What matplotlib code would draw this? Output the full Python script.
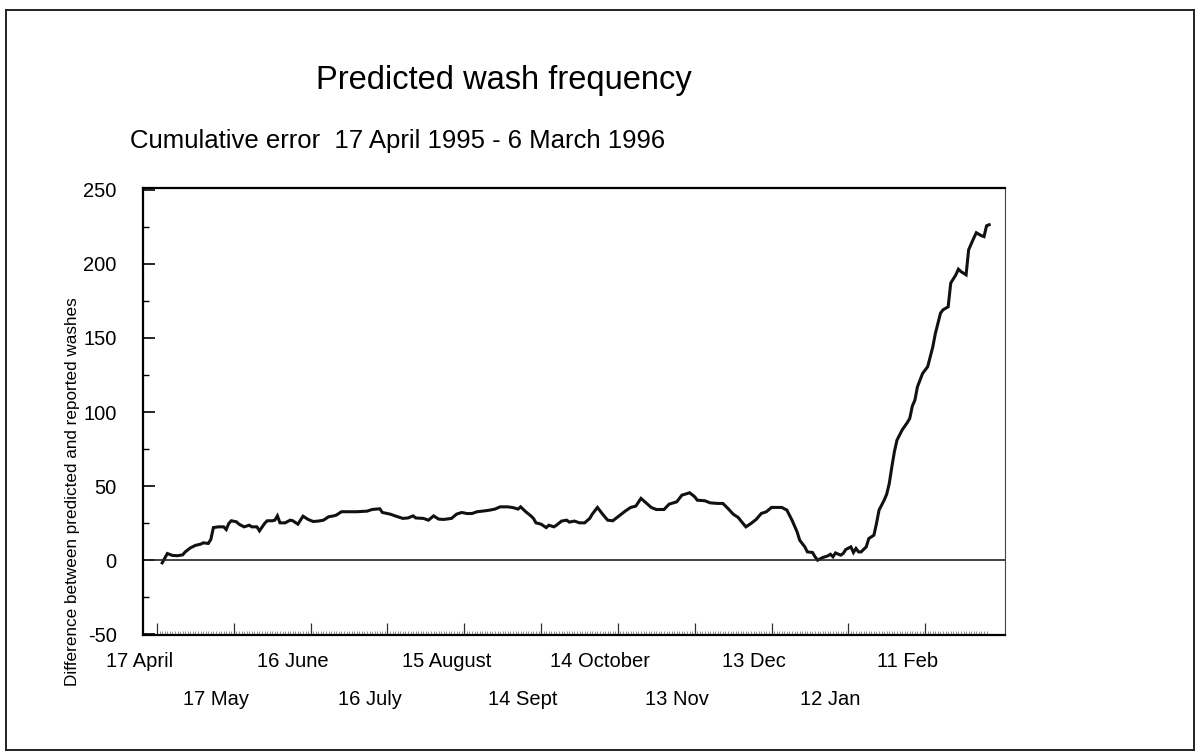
import matplotlib
matplotlib.use("Agg")
import matplotlib.pyplot as plt
import matplotlib.transforms as mtransforms
from matplotlib.patches import Rectangle
import numpy as np

plt.rcParams['font.family'] = ['Liberation Sans', 'DejaVu Sans']
plt.rcParams['axes.unicode_minus'] = False

# days counted from 17 April 1995
days = [2, 4, 6, 8, 10, 11, 13, 15, 17, 18, 20, 21, 22, 24, 26, 27, 28, 29, 31, 32,
        34, 36, 37, 39, 40, 42, 43, 45, 46, 47, 48, 50, 52, 53, 55, 56, 57, 59, 61, 63,
        65, 67, 69, 70, 72, 74, 78, 82, 84, 87, 88, 91, 94, 96, 98, 100, 101, 104, 106, 108,
        110, 112, 115, 117, 119, 121, 123, 125, 128, 130, 132, 134, 137, 139, 141, 142, 144, 146, 147, 148,
        150, 152, 153, 155, 156, 158, 160, 161, 163, 165, 167, 169, 170, 172, 174, 176, 178, 180, 182, 183,
        185, 187, 189, 191, 193, 195, 198, 200, 203, 205, 206, 208, 210, 211, 214, 216, 219, 221, 223, 225,
        227, 228, 230, 232, 234, 236, 238, 240, 242, 244, 246, 248, 250, 251, 253, 254, 256, 257, 258, 260,
        262, 263, 264, 265, 267, 268, 269, 271, 272, 273, 274, 275, 277, 278, 280, 281, 282, 284, 285, 286,
        287, 288, 289, 291, 293, 294, 295, 296, 297, 299, 301, 303, 304, 306, 307, 309, 310, 312, 313, 314,
        316, 317, 319, 320, 322, 323, 324, 325]
cum_error = [-1.8, 4.5, 3.2, 3.0, 3.6, 5.6, 8.3, 10.0, 10.8, 11.7, 11.3, 14.0, 22.0, 22.5, 22.5, 20.7, 24.8, 26.6, 25.9, 24.3,
             22.5, 23.6, 22.5, 22.5, 19.8, 24.8, 26.6, 26.6, 27.0, 29.9, 25.2, 25.2, 27.0, 26.6, 24.3, 27.0, 29.7, 27.5, 26.1, 26.4,
             27.0, 29.3, 29.9, 30.4, 32.7, 32.7, 32.7, 33.1, 34.2, 34.7, 32.2, 31.1, 29.3, 28.2, 28.5, 29.9, 28.5, 28.2, 27.0, 29.9,
             27.7, 27.5, 28.2, 31.1, 32.2, 31.5, 31.5, 32.7, 33.3, 33.8, 34.5, 36.0, 36.0, 35.5, 34.5, 36.0, 32.7, 29.9, 28.2, 25.2,
             24.3, 22.0, 23.6, 22.5, 23.6, 26.4, 27.0, 25.7, 26.4, 25.2, 25.2, 28.2, 31.1, 35.6, 31.1, 27.0, 26.6, 29.3, 32.0, 33.3,
             35.6, 36.5, 41.7, 38.7, 35.6, 34.2, 34.2, 37.8, 39.4, 43.9, 44.4, 45.5, 42.8, 40.5, 40.1, 38.7, 38.3, 38.3, 34.9, 31.1,
             28.8, 26.6, 22.5, 24.8, 27.5, 31.5, 32.7, 35.6, 35.6, 35.6, 33.8, 27.0, 19.1, 13.5, 9.0, 5.6, 5.2, 2.3, 0.0, 1.8,
             2.9, 4.0, 2.3, 4.9, 3.4, 4.5, 7.2, 9.0, 5.2, 7.9, 5.6, 5.6, 9.0, 14.6, 16.9, 24.8, 33.8, 40.5, 44.6, 51.8,
             63.0, 73.2, 81.0, 87.8, 92.8, 95.7, 104.0, 108.0, 117.0, 126.0, 130.6, 144.0, 153.0, 166.7, 169.0, 171.0, 187.0, 192.6, 196.4, 194.8,
             192.6, 209.5, 217.4, 221.0, 219.0, 218.4, 225.7, 226.4]

label_days = [0, 30, 60, 90, 120, 150, 180, 210, 240, 270, 300]
date_labels = ["17 April", "17 May", "16 June", "16 July", "15 August", "14 Sept",
               "14 October", "13 Nov", "13 Dec", "12 Jan", "11 Feb"]
n_days = 325

W, H = 1198, 753
fig = plt.figure(figsize=(W / 100, H / 100), dpi=100)
ax = fig.add_axes([143 / W, 1 - 635 / H, 862 / W, 447 / H])

ax.plot(days, cum_error, color="#111111", lw=2.2, solid_joinstyle="miter")
ax.axhline(0, color="#222222", lw=1.2)

ax.set_xlim(-5.5, 331.2)
ax.set_ylim(-50.5, 251.2)

# y axis: inward ticks, labels well away from the spine
ax.set_yticks(range(-50, 251, 50))
ax.set_yticks(range(-25, 250, 50), minor=True)
ax.tick_params(axis="y", which="major", direction="in", length=8.5, width=1.2,
               pad=19, labelsize=14.5)
ax.tick_params(axis="y", which="minor", direction="in", length=4.3, width=1.0)

# x axis: daily comb plus 30-day marks, labels drawn by hand in two rows
ax.set_xticks(label_days)
ax.set_xticklabels([])
ax.set_xticks(np.arange(n_days), minor=True)
ax.tick_params(axis="x", which="major", direction="in", length=8.5, width=0.9, color="#333333")
ax.tick_params(axis="x", which="minor", direction="in", length=3, width=0.45, color="#555555")

trans = mtransforms.offset_copy(ax.get_xaxis_transform(), fig=fig, x=-18, y=0, units="dots")
for i, (d, lab) in enumerate(zip(label_days, date_labels)):
    yrow = -0.0604 if i % 2 == 0 else -0.1454
    ax.text(d, yrow, lab, transform=trans, ha="center", va="center", fontsize=14.5)

for side in ["top", "left", "bottom"]:
    ax.spines[side].set_linewidth(1.6)
ax.spines["right"].set_linewidth(0.8)
ax.spines["right"].set_color("#444444")

fig.text(73 / W, 1 - 492 / H, "Difference between predicted and reported washes",
         rotation=90, ha="center", va="center", fontsize=12.3)
fig.text(504 / W, 1 - 80 / H, "Predicted wash frequency", ha="center", va="center", fontsize=23.5)
fig.text(130 / W, 1 - 141 / H, "Cumulative error  17 April 1995 - 6 March 1996",
         ha="left", va="center", fontsize=18.5)

# frame around the whole page
fig.patches.append(Rectangle((6 / W, 3 / H), 1188 / W, 740 / H, transform=fig.transFigure,
                             fill=False, edgecolor="#222222", lw=1.4))

fig.savefig("out.png", dpi=100)
